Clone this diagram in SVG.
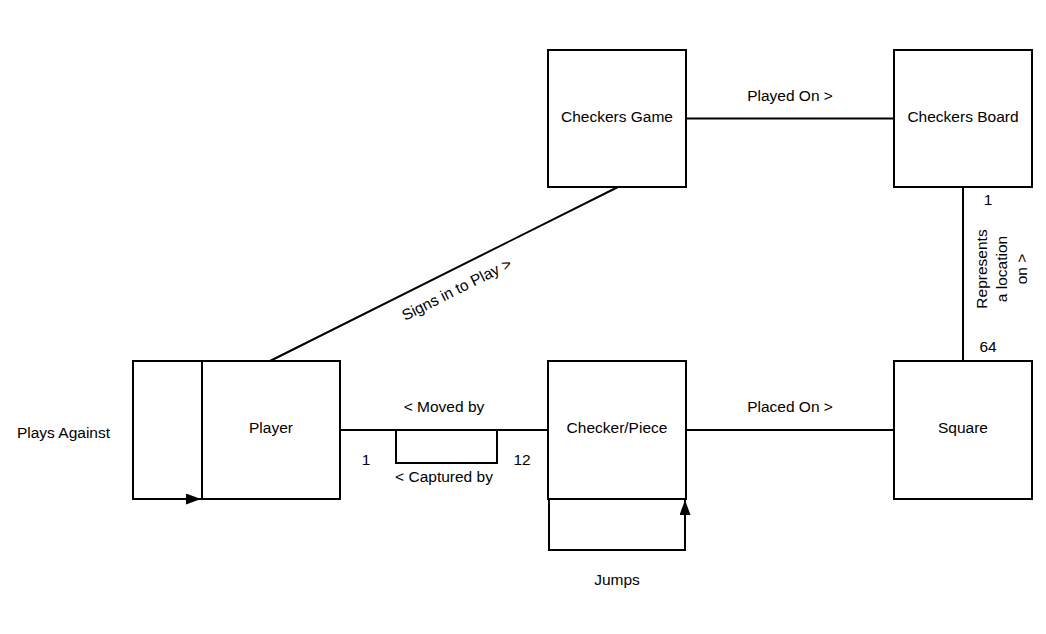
<svg xmlns="http://www.w3.org/2000/svg" width="1046" height="634" viewBox="0 0 1046 634">
<defs>
<style>
.box{fill:#fff;stroke:#000;stroke-width:2}
.ln{fill:none;stroke:#000;stroke-width:2}
text{font-family:"Liberation Sans",Arial,sans-serif;font-size:15.5px;fill:#000}
.c{text-anchor:middle}
</style>
<marker id="arr" viewBox="0 0 15 11" refX="15" refY="5.5" markerWidth="15" markerHeight="11" markerUnits="userSpaceOnUse" orient="auto">
<path d="M0,0 L15,5.5 L0,11 z" fill="#000"/>
</marker>
</defs>
<rect width="1046" height="634" fill="#fff"/>
<g id="connectors">
<line class="ln" x1="686" y1="118.5" x2="894" y2="118.5"/>
<line class="ln" x1="963" y1="187" x2="963" y2="361"/>
<line class="ln" x1="270" y1="361" x2="618" y2="187"/>
<line class="ln" x1="340" y1="430" x2="548" y2="430"/>
<polyline class="ln" points="396,430 396,463 497,463 497,430"/>
<line class="ln" x1="686" y1="430" x2="894" y2="430"/>
<polyline class="ln" points="202,361 133,361 133,499 201,499" marker-end="url(#arr)"/>
<polyline class="ln" points="549,499 549,550 685,550 685,500" marker-end="url(#arr)"/>
<text class="c" x="790" y="101">Played On &gt;</text>
<text class="c" x="790" y="412">Placed On &gt;</text>
<text class="c" x="444" y="412">&lt; Moved by</text>
<text class="c" x="444" y="482">&lt; Captured by</text>
<text class="c" x="366" y="465">1</text>
<text class="c" x="522" y="465">12</text>
<text class="c" x="988" y="205">1</text>
<text class="c" x="988" y="352">64</text>
<text class="c" x="617" y="585">Jumps</text>
<text class="c" x="63.5" y="438">Plays Against</text>
<text class="c" transform="translate(459,294) rotate(-26.6)" x="0" y="0">Signs in to Play &gt;</text>
<g transform="translate(987,269) rotate(-90)">
<text class="c"><tspan x="0" y="0">Represents</tspan><tspan x="0" y="20">a location</tspan><tspan x="0" y="40">on &gt;</tspan></text>
</g>
</g>
<g id="checkers-game"><rect class="box" x="548" y="50" width="138" height="137"/><text class="c" x="617" y="122">Checkers Game</text></g>
<g id="checkers-board"><rect class="box" x="894" y="50" width="138" height="137"/><text class="c" x="963" y="122">Checkers Board</text></g>
<g id="player"><rect class="box" x="202" y="361" width="138" height="138"/><text class="c" x="271" y="433">Player</text></g>
<g id="checker-piece"><rect class="box" x="548" y="361" width="138" height="138"/><text class="c" x="617" y="433">Checker/Piece</text></g>
<g id="square"><rect class="box" x="894" y="361" width="138" height="138"/><text class="c" x="963" y="433">Square</text></g>
</svg>
